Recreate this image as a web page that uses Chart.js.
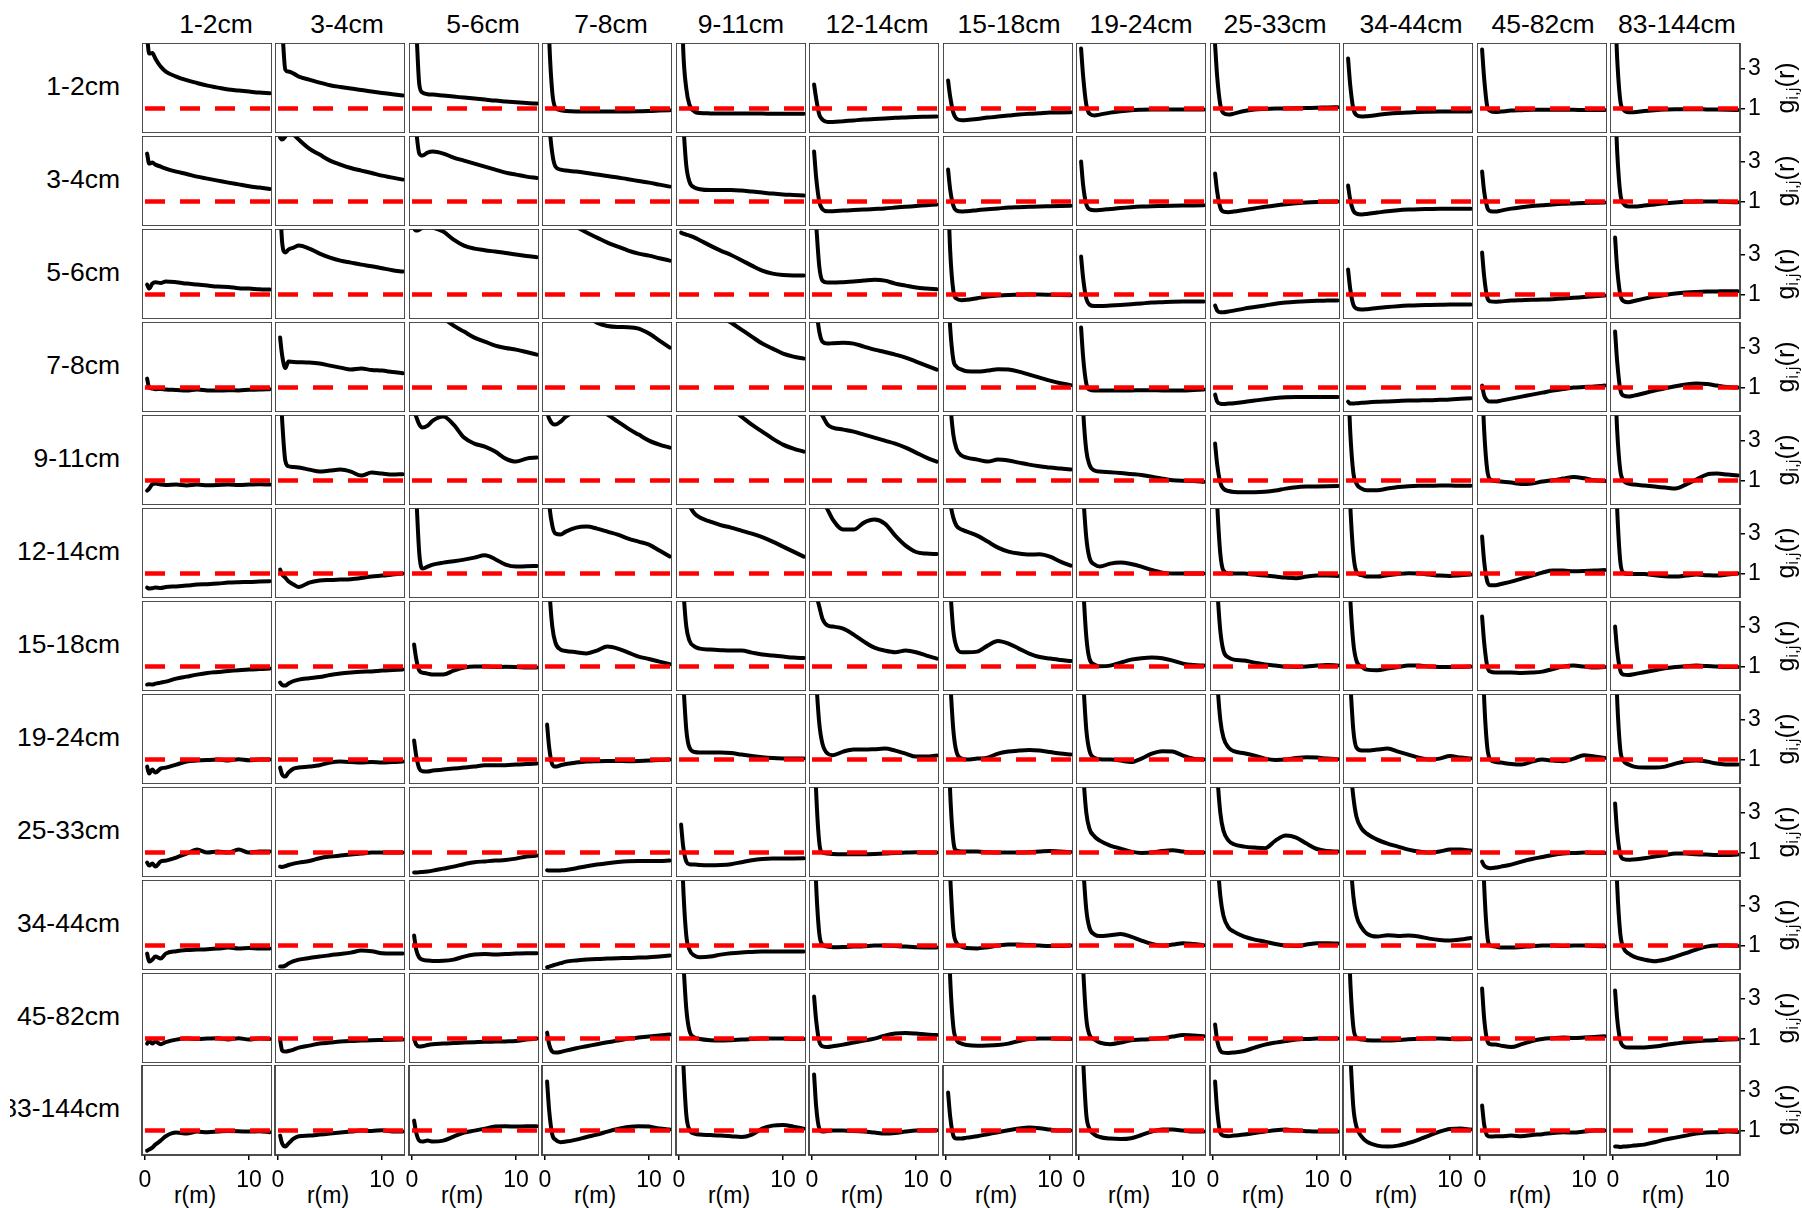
<!DOCTYPE html>
<html>
<head>
<meta charset="utf-8">
<script src="https://cdn.jsdelivr.net/npm/chart.js@4.4.1/dist/chart.umd.min.js"></script>
<style>
  body { margin: 0; background: #fff; width: 1802px; height: 1208px; overflow: hidden; position: relative;
         font-family: "Liberation Sans", Arial, sans-serif; color: #000; }
  .lab { position: absolute; white-space: nowrap; }
  #rowLabels { position: absolute; left: 10px; top: 0; width: 110px; height: 1208px; overflow: hidden; }
</style>
</head>
<body>
<div id="rowLabels"></div>
<script>
// size classes (same for rows i and columns j)
const sizeClasses = ['1-2cm', '3-4cm', '5-6cm', '7-8cm', '9-11cm', '12-14cm', '15-18cm',
                     '19-24cm', '25-33cm', '34-44cm', '45-82cm', '83-144cm'];

// distances r (m) where each g(r) curve is read
const rSteps = [0.2, 0.4, 0.7, 1, 1.5, 2, 3, 4, 5, 6, 7, 8, 9, 10, 11, 12];

const xTicks = [0, 10];
const yTicks = [1, 3];
const refLevel = 1;          // red dashed line, g = 1
const refSpan = [0, 12.2];

// one list per row (row class = sizeClasses[i]); 12 curves each, one per column class
const gRow1 = [
  [4.6, 3.75, 3.78, 3.5, 3.1, 2.85, 2.6, 2.42, 2.28, 2.15, 2.05, 1.95, 1.9, 1.85, 1.8, 1.77],
  [6, 5, 2.95, 2.85, 2.75, 2.6, 2.45, 2.3, 2.17, 2.08, 2.0, 1.93, 1.85, 1.78, 1.72, 1.66],
  [6, 5, 2.2, 1.8, 1.72, 1.7, 1.65, 1.6, 1.55, 1.5, 1.45, 1.4, 1.36, 1.32, 1.28, 1.25],
  [8, 4.5, 1.8, 1.05, 0.92, 0.88, 0.86, 0.86, 0.85, 0.85, 0.85, 0.86, 0.87, 0.88, 0.9, 0.92],
  [8, 4, 2.0, 1.2, 0.85, 0.78, 0.76, 0.75, 0.75, 0.75, 0.75, 0.75, 0.74, 0.74, 0.74, 0.74],
  [2.2, 1.5, 0.7, 0.45, 0.33, 0.33, 0.37, 0.41, 0.45, 0.48, 0.51, 0.54, 0.56, 0.58, 0.59, 0.6],
  [2.4, 1.6, 0.8, 0.5, 0.42, 0.43, 0.48, 0.55, 0.6, 0.65, 0.7, 0.74, 0.77, 0.8, 0.81, 0.82],
  [4.0, 2.6, 1.2, 0.75, 0.66, 0.7, 0.8, 0.87, 0.92, 0.94, 0.95, 0.95, 0.95, 0.96, 0.96, 0.96],
  [4.2, 2.6, 1.2, 0.78, 0.7, 0.75, 0.88, 0.95, 0.98, 1.0, 1.01, 1.02, 1.03, 1.04, 1.06, 1.07],
  [3.5, 2.2, 1.0, 0.68, 0.6, 0.62, 0.68, 0.74, 0.78, 0.8, 0.83, 0.84, 0.85, 0.86, 0.86, 0.86],
  [3.95, 2.5, 1.1, 0.88, 0.83, 0.85, 0.9, 0.92, 0.94, 0.94, 0.94, 0.94, 0.94, 0.93, 0.93, 0.93],
  [6, 3.5, 1.4, 0.95, 0.82, 0.82, 0.88, 0.92, 0.95, 0.97, 0.97, 0.97, 0.96, 0.95, 0.94, 0.93]
];
const gRow2 = [
  [3.4, 2.9, 2.95, 2.85, 2.75, 2.65, 2.5, 2.38, 2.25, 2.15, 2.05, 1.95, 1.86, 1.77, 1.7, 1.63],
  [4.2, 4.1, 4.25, 4.5, 4.35, 4.1, 3.65, 3.35, 3.05, 2.85, 2.68, 2.55, 2.43, 2.3, 2.2, 2.1],
  [6, 4.6, 3.4, 3.3, 3.45, 3.5, 3.4, 3.2, 3.05, 2.9, 2.75, 2.6, 2.45, 2.35, 2.25, 2.18],
  [7, 5, 3.4, 2.75, 2.6, 2.55, 2.5, 2.43, 2.35, 2.28, 2.2, 2.12, 2.03, 1.95, 1.85, 1.75],
  [7, 5, 2.8, 2.0, 1.7, 1.62, 1.58, 1.58, 1.58, 1.55, 1.5, 1.45, 1.4, 1.36, 1.33, 1.3],
  [3.5, 2.2, 1.0, 0.62, 0.52, 0.52, 0.55, 0.58, 0.6, 0.63, 0.66, 0.7, 0.74, 0.78, 0.82, 0.86],
  [2.6, 1.6, 0.8, 0.55, 0.5, 0.52, 0.57, 0.62, 0.66, 0.7, 0.72, 0.74, 0.76, 0.77, 0.78, 0.79],
  [3.0, 1.8, 0.85, 0.62, 0.57, 0.58, 0.63, 0.68, 0.72, 0.75, 0.77, 0.78, 0.79, 0.8, 0.81, 0.82],
  [2.4, 1.5, 0.7, 0.5, 0.47, 0.5, 0.58, 0.66, 0.74, 0.81, 0.87, 0.92, 0.96, 0.98, 0.99, 1.0],
  [1.8, 1.1, 0.55, 0.4, 0.36, 0.38, 0.45, 0.52, 0.57, 0.6, 0.62, 0.63, 0.64, 0.64, 0.64, 0.64],
  [2.5, 1.5, 0.7, 0.52, 0.5, 0.55, 0.65, 0.72, 0.78, 0.82, 0.86, 0.89, 0.91, 0.93, 0.94, 0.95],
  [6, 3.5, 1.4, 0.9, 0.75, 0.75, 0.8, 0.86, 0.92, 0.96, 0.99, 1.0, 1.01, 1.0, 0.98, 0.97]
];
const gRow3 = [
  [1.5, 1.3, 1.55, 1.62, 1.58, 1.66, 1.62, 1.55, 1.5, 1.45, 1.4, 1.38, 1.32, 1.3, 1.27, 1.25],
  [5.5, 3.6, 3.1, 3.25, 3.35, 3.45, 3.3, 3.05, 2.85, 2.7, 2.6, 2.5, 2.42, 2.32, 2.22, 2.15],
  [4.3, 4.2, 4.25, 4.35, 4.4, 4.35, 4.15, 3.75, 3.45, 3.3, 3.22, 3.15, 3.08, 3.0, 2.93, 2.87],
  [5.5, 5.3, 5.2, 5.1, 5.0, 4.8, 4.4, 4.1, 3.85, 3.6, 3.4, 3.2, 3.05, 2.95, 2.82, 2.7],
  [4.1, 4.05, 4.0, 3.95, 3.85, 3.72, 3.45, 3.2, 2.98, 2.72, 2.45, 2.2, 2.05, 1.98, 1.96, 1.96],
  [6, 4.5, 2.4, 1.7, 1.6, 1.6, 1.62, 1.65, 1.7, 1.74, 1.7, 1.55, 1.45, 1.35, 1.3, 1.27],
  [6, 3.2, 1.2, 0.8, 0.72, 0.74, 0.82, 0.9, 0.95, 0.98, 0.99, 1.0, 1.0, 0.99, 0.98, 0.97],
  [2.9, 1.8, 0.8, 0.5, 0.43, 0.43, 0.45, 0.48, 0.52, 0.56, 0.6, 0.62, 0.64, 0.65, 0.65, 0.65],
  [0.45, 0.2, 0.12, 0.12, 0.16, 0.2, 0.3, 0.38, 0.46, 0.54, 0.6, 0.64, 0.67, 0.69, 0.7, 0.71],
  [2.25, 1.3, 0.5, 0.3, 0.25, 0.27, 0.33, 0.38, 0.42, 0.45, 0.47, 0.48, 0.49, 0.5, 0.5, 0.5],
  [3.1, 1.9, 0.85, 0.66, 0.64, 0.66, 0.7, 0.72, 0.74, 0.75, 0.77, 0.8, 0.84, 0.88, 0.92, 0.95],
  [3.85, 2.3, 1.0, 0.68, 0.62, 0.68, 0.8, 0.9, 0.98, 1.05, 1.1, 1.13, 1.15, 1.16, 1.17, 1.17]
];
const gRow4 = [
  [1.45, 1.0, 0.95, 0.92, 0.93, 0.9, 0.88, 0.85, 0.9, 0.86, 0.85, 0.87, 0.86, 0.89, 0.9, 0.92],
  [3.5, 2.6, 1.98, 2.3, 2.28, 2.27, 2.25, 2.2, 2.1, 2.0, 1.9, 1.95, 1.88, 1.85, 1.78, 1.72],
  [6, 6, 5.9, 5.7, 5.4, 5.1, 4.5, 4.1, 3.8, 3.5, 3.3, 3.1, 2.98, 2.9, 2.78, 2.65],
  [6.5, 6.3, 6.2, 6.1, 5.9, 5.7, 5.0, 4.6, 4.25, 4.08, 4.03, 4.02, 3.95, 3.7, 3.35, 3.0],
  [7, 6.8, 6.6, 6.4, 6.1, 5.8, 5.2, 4.6, 4.25, 3.9, 3.55, 3.2, 2.95, 2.7, 2.55, 2.45],
  [6, 5, 3.8, 3.3, 3.2, 3.22, 3.24, 3.2, 3.05, 2.9, 2.78, 2.65, 2.5, 2.3, 2.1, 1.9],
  [6, 4, 2.4, 2.05, 1.9, 1.82, 1.8, 1.85, 1.92, 1.9, 1.8, 1.65, 1.5, 1.35, 1.22, 1.12],
  [4.0, 2.5, 1.2, 0.9, 0.85, 0.85, 0.86, 0.86, 0.86, 0.87, 0.87, 0.86, 0.86, 0.86, 0.88, 0.9],
  [0.65, 0.3, 0.2, 0.18, 0.2, 0.22, 0.28, 0.35, 0.42, 0.48, 0.52, 0.53, 0.53, 0.53, 0.53, 0.53],
  [0.3, 0.2, 0.2, 0.22, 0.24, 0.26, 0.29, 0.31, 0.33, 0.35, 0.36, 0.37, 0.39, 0.41, 0.44, 0.47],
  [1.1, 0.6, 0.35, 0.3, 0.3, 0.35, 0.45, 0.55, 0.65, 0.75, 0.85, 0.93, 1.0, 1.03, 1.06, 1.1],
  [3.8, 2.3, 0.9, 0.6, 0.55, 0.6, 0.72, 0.85, 0.97, 1.07, 1.15, 1.2, 1.18, 1.1, 1.03, 1.0]
];
const gRow5 = [
  [0.5, 0.6, 0.82, 0.85, 0.8, 0.78, 0.8, 0.76, 0.8, 0.77, 0.78, 0.8, 0.78, 0.8, 0.82, 0.8],
  [6, 4, 2.0, 1.72, 1.68, 1.65, 1.55, 1.45, 1.5, 1.55, 1.45, 1.25, 1.4, 1.35, 1.3, 1.32],
  [4.5, 4.2, 3.8, 3.65, 3.75, 4.0, 4.2, 3.8, 3.15, 2.85, 2.7, 2.45, 2.1, 1.95, 2.1, 2.15],
  [4.4, 4.1, 3.85, 3.8, 3.95, 4.2, 4.5, 4.7, 4.6, 4.3, 3.95, 3.6, 3.3, 3.0, 2.8, 2.65],
  [7, 7, 6.8, 6.6, 6.3, 6.0, 5.5, 5.0, 4.6, 4.2, 3.8, 3.45, 3.1, 2.8, 2.6, 2.45],
  [5.5, 5, 4.5, 4.25, 3.8, 3.65, 3.55, 3.45, 3.3, 3.15, 3.0, 2.85, 2.65, 2.4, 2.15, 1.95],
  [7, 5, 3.3, 2.6, 2.25, 2.15, 2.05, 1.95, 2.05, 2.0, 1.9, 1.8, 1.72, 1.65, 1.6, 1.55],
  [7, 4.5, 2.5, 1.8, 1.5, 1.45, 1.42, 1.38, 1.33, 1.28, 1.2, 1.1, 1.02, 0.99, 0.98, 0.94],
  [2.85, 1.8, 0.9, 0.6, 0.48, 0.43, 0.42, 0.42, 0.44, 0.5, 0.6, 0.67, 0.7, 0.71, 0.72, 0.73],
  [6, 3.5, 1.4, 0.85, 0.6, 0.52, 0.52, 0.6, 0.68, 0.72, 0.74, 0.74, 0.75, 0.75, 0.74, 0.74],
  [6, 3.5, 1.5, 1.05, 0.98, 0.95, 0.9, 0.83, 0.86, 0.95, 1.02, 1.1, 1.18, 1.12, 1.02, 0.98],
  [6, 3.5, 1.5, 1.0, 0.85, 0.8, 0.75, 0.7, 0.65, 0.6, 0.8, 1.05, 1.3, 1.35, 1.3, 1.25]
];
const gRow6 = [
  [0.3, 0.25, 0.27, 0.3, 0.28, 0.33, 0.36, 0.4, 0.45, 0.47, 0.5, 0.55, 0.57, 0.58, 0.6, 0.62],
  [1.2, 0.95, 0.8, 0.62, 0.45, 0.33, 0.55, 0.65, 0.68, 0.7, 0.72, 0.78, 0.86, 0.9, 0.95, 1.0],
  [7, 5, 2.0, 1.25, 1.35, 1.45, 1.55, 1.62, 1.7, 1.8, 1.92, 1.72, 1.45, 1.35, 1.37, 1.38],
  [6, 4.5, 3.4, 3.0, 2.95, 3.1, 3.3, 3.35, 3.25, 3.1, 2.95, 2.75, 2.6, 2.45, 2.15, 1.85],
  [5.5, 5.2, 4.8, 4.4, 4.0, 3.8, 3.6, 3.42, 3.3, 3.15, 3.0, 2.82, 2.6, 2.35, 2.1, 1.85],
  [6, 5.7, 5.2, 4.7, 4.2, 3.7, 3.2, 3.2, 3.55, 3.7, 3.5, 2.9, 2.4, 2.08, 2.0, 1.98],
  [5, 4.5, 3.8, 3.4, 3.2, 3.1, 2.9, 2.6, 2.3, 2.1, 2.0, 1.95, 1.97, 1.85, 1.6, 1.4],
  [7, 5, 2.8, 1.8, 1.45, 1.35, 1.5, 1.55, 1.48, 1.35, 1.18, 1.05, 1.0, 1.0, 1.0, 1.0],
  [7, 4.5, 2.0, 1.15, 1.0, 1.0, 1.0, 0.95, 0.9, 0.85, 0.8, 0.77, 0.85, 0.9, 0.9, 0.88],
  [7, 4.5, 2.0, 1.1, 0.92, 0.85, 0.85, 0.92, 0.98, 1.02, 1.0, 0.95, 0.9, 0.88, 0.92, 0.95],
  [2.85, 1.6, 0.6, 0.42, 0.42, 0.48, 0.6, 0.75, 0.9, 1.05, 1.15, 1.15, 1.12, 1.13, 1.15, 1.18],
  [7, 4.2, 1.6, 1.05, 0.98, 0.98, 0.98, 0.92, 0.87, 0.86, 0.9, 0.95, 0.92, 0.9, 0.95, 1.0]
];
const gRow7 = [
  [0.1, 0.12, 0.1, 0.15, 0.2, 0.25, 0.4, 0.5, 0.6, 0.68, 0.73, 0.78, 0.82, 0.85, 0.88, 0.9],
  [0.2, 0.08, 0.05, 0.15, 0.28, 0.35, 0.42, 0.48, 0.58, 0.65, 0.7, 0.74, 0.76, 0.8, 0.83, 0.86],
  [2.1, 1.4, 0.8, 0.7, 0.65, 0.6, 0.6, 0.8, 0.95, 1.0, 1.0, 0.98, 0.99, 0.98, 0.96, 0.96],
  [7, 5, 3.0, 2.2, 1.85, 1.78, 1.72, 1.66, 1.8, 2.0, 1.9, 1.7, 1.5, 1.38, 1.25, 1.12],
  [7, 5, 3.0, 2.3, 2.0, 1.9, 1.85, 1.82, 1.8, 1.8, 1.7, 1.6, 1.55, 1.5, 1.45, 1.43],
  [5, 4.6, 4.0, 3.4, 3.05, 3.0, 2.9, 2.6, 2.25, 1.95, 1.8, 1.72, 1.8, 1.72, 1.55, 1.4],
  [7, 5, 2.8, 2.0, 1.72, 1.72, 1.75, 2.05, 2.28, 2.15, 1.9, 1.65, 1.48, 1.4, 1.33, 1.28],
  [7, 5, 2.5, 1.4, 1.1, 1.02, 1.05, 1.2, 1.35, 1.42, 1.45, 1.42, 1.3, 1.15, 1.08, 1.05],
  [7, 5, 2.8, 1.8, 1.45, 1.35, 1.3, 1.2, 1.1, 1.05, 1.0, 0.98, 1.0, 1.05, 1.08, 1.05],
  [7, 4.5, 2.2, 1.3, 1.0, 0.85, 0.82, 0.9, 0.98, 1.05, 1.05, 1.0, 0.98, 0.98, 0.98, 1.0],
  [3.5, 2.2, 1.0, 0.75, 0.7, 0.7, 0.7, 0.68, 0.7, 0.75, 0.88, 1.0, 1.05, 1.0, 0.95, 0.98],
  [3.0, 1.8, 0.8, 0.6, 0.58, 0.62, 0.72, 0.82, 0.92, 0.98, 1.02, 1.05, 1.03, 1.0, 0.98, 0.98]
];
const gRow8 = [
  [0.65, 0.3, 0.5, 0.35, 0.55, 0.6, 0.75, 0.9, 0.95, 0.98, 1.0, 0.95, 1.02, 0.97, 1.0, 1.0],
  [0.6, 0.25, 0.15, 0.35, 0.55, 0.6, 0.65, 0.72, 0.85, 0.9, 0.88, 0.85, 0.88, 0.85, 0.88, 0.9],
  [1.95, 1.2, 0.55, 0.42, 0.4, 0.45, 0.5, 0.55, 0.6, 0.65, 0.72, 0.72, 0.72, 0.75, 0.78, 0.8],
  [2.75, 1.6, 0.75, 0.65, 0.72, 0.78, 0.85, 0.9, 0.92, 0.93, 0.93, 0.92, 0.93, 0.95, 0.98, 1.0],
  [7, 5, 2.5, 1.6, 1.38, 1.35, 1.35, 1.35, 1.33, 1.25, 1.18, 1.12, 1.08, 1.06, 1.05, 1.05],
  [7, 5, 2.8, 1.8, 1.3, 1.22, 1.4, 1.5, 1.5, 1.52, 1.55, 1.45, 1.3, 1.15, 1.15, 1.2],
  [7, 5, 2.5, 1.4, 1.05, 1.0, 1.05, 1.1, 1.3, 1.4, 1.45, 1.48, 1.45, 1.38, 1.3, 1.25],
  [7, 5, 2.5, 1.45, 1.08, 1.02, 1.0, 0.95, 0.88, 1.05, 1.3, 1.42, 1.4, 1.2, 1.05, 1.0],
  [7, 5, 3.0, 2.1, 1.6, 1.42, 1.32, 1.2, 1.05, 0.98, 1.0, 1.08, 1.12, 1.1, 1.05, 1.02],
  [7, 5, 2.5, 1.6, 1.45, 1.45, 1.5, 1.55, 1.4, 1.25, 1.1, 1.0, 1.05, 1.18, 1.1, 1.05],
  [7, 4, 1.6, 1.0, 0.88, 0.85, 0.78, 0.75, 0.9, 1.0, 0.95, 0.92, 1.05, 1.22, 1.15, 1.08],
  [7, 4, 1.5, 0.95, 0.75, 0.65, 0.6, 0.6, 0.65, 0.8, 0.92, 0.95, 0.9, 0.8, 0.75, 0.75]
];
const gRow9 = [
  [0.5, 0.35, 0.45, 0.3, 0.55, 0.6, 0.75, 0.95, 1.15, 1.0, 1.05, 1.0, 1.15, 1.0, 1.05, 1.05],
  [0.3, 0.28, 0.32, 0.38, 0.45, 0.5, 0.58, 0.72, 0.8, 0.85, 0.9, 0.95, 1.0, 1.0, 1.0, 1.0],
  [0.0, 0.0, 0.02, 0.03, 0.06, 0.1, 0.2, 0.3, 0.42, 0.52, 0.56, 0.6, 0.63, 0.7, 0.8, 0.85],
  [0.12, 0.1, 0.1, 0.1, 0.11, 0.13, 0.22, 0.32, 0.4, 0.47, 0.53, 0.57, 0.58, 0.58, 0.58, 0.6],
  [2.4, 1.3, 0.55, 0.42, 0.4, 0.38, 0.37, 0.38, 0.42, 0.52, 0.62, 0.68, 0.7, 0.7, 0.71, 0.72],
  [7, 4, 1.5, 1.0, 0.95, 0.93, 0.92, 0.92, 0.92, 0.93, 0.95, 0.98, 1.0, 1.02, 1.0, 1.0],
  [7, 4, 1.6, 1.1, 1.05, 1.05, 1.05, 1.02, 1.0, 1.0, 1.0, 1.02, 1.05, 1.08, 1.05, 1.03],
  [7, 5, 3.0, 2.2, 1.8, 1.6, 1.35, 1.2, 1.05, 0.98, 1.0, 1.08, 1.12, 1.05, 1.0, 1.0],
  [7, 5, 3.0, 2.1, 1.6, 1.42, 1.3, 1.25, 1.22, 1.6, 1.85, 1.75, 1.45, 1.18, 1.08, 1.05],
  [7, 5.5, 3.8, 2.8, 2.2, 1.95, 1.65, 1.45, 1.3, 1.15, 1.05, 1.0, 1.05, 1.15, 1.15, 1.1],
  [0.55, 0.35, 0.25, 0.22, 0.25, 0.3, 0.4, 0.55, 0.68, 0.78, 0.88, 0.95, 0.98, 1.0, 0.98, 0.98],
  [3.45, 2.0, 0.9, 0.68, 0.64, 0.66, 0.72, 0.8, 0.88, 0.95, 0.95, 0.92, 0.9, 0.88, 0.88, 0.9]
];
const gRow10 = [
  [0.6, 0.2, 0.3, 0.45, 0.35, 0.6, 0.72, 0.78, 0.8, 0.82, 0.85, 0.9, 0.85, 0.88, 0.86, 0.86],
  [-0.05, -0.05, 0.0, 0.1, 0.22, 0.3, 0.38, 0.45, 0.52, 0.58, 0.65, 0.75, 0.72, 0.62, 0.6, 0.6],
  [1.5, 0.8, 0.4, 0.3, 0.25, 0.23, 0.24, 0.3, 0.45, 0.55, 0.58, 0.55, 0.58, 0.6, 0.62, 0.62],
  [-0.08, -0.05, 0.0, 0.05, 0.12, 0.2, 0.26, 0.3, 0.33, 0.35, 0.37, 0.38, 0.4, 0.42, 0.46, 0.5],
  [7, 4, 1.5, 0.8, 0.5, 0.42, 0.45, 0.55, 0.62, 0.66, 0.68, 0.7, 0.7, 0.7, 0.7, 0.7],
  [7, 4, 1.6, 1.05, 0.95, 0.92, 0.93, 0.95, 0.97, 1.0, 1.0, 0.98, 0.95, 0.92, 0.9, 0.9],
  [7, 4.5, 1.8, 1.15, 0.95, 0.88, 0.86, 0.92, 1.0, 1.05, 1.05, 1.03, 1.0, 0.98, 0.98, 1.0],
  [7, 5, 2.8, 1.9, 1.55, 1.48, 1.52, 1.58, 1.45, 1.25, 1.08, 1.0, 1.05, 1.12, 1.08, 1.02],
  [7, 5.5, 3.5, 2.5, 1.9, 1.7, 1.45, 1.3, 1.2, 1.08, 1.0, 0.98, 1.05, 1.12, 1.12, 1.1],
  [7, 5.5, 3.5, 2.5, 1.9, 1.6, 1.45, 1.52, 1.48, 1.5, 1.45, 1.35, 1.28, 1.25, 1.3, 1.38],
  [7, 4, 1.5, 1.0, 0.95, 0.9, 0.9, 0.93, 0.97, 1.0, 1.0, 0.98, 1.0, 1.0, 0.98, 0.97],
  [7, 4, 1.6, 0.9, 0.6, 0.45, 0.3, 0.22, 0.3, 0.45, 0.62, 0.8, 0.95, 1.0, 1.0, 0.98]
];
const gRow11 = [
  [0.75, 0.9, 0.75, 0.85, 0.72, 0.82, 0.95, 1.0, 0.98, 1.0, 1.02, 0.95, 1.02, 0.95, 1.0, 0.98],
  [0.95, 0.4, 0.35, 0.38, 0.45, 0.55, 0.65, 0.75, 0.8, 0.85, 0.88, 0.9, 0.92, 0.93, 0.94, 0.95],
  [1.0, 0.7, 0.6, 0.62, 0.68, 0.72, 0.75, 0.78, 0.8, 0.82, 0.84, 0.85, 0.86, 0.88, 0.95, 1.0],
  [1.3, 0.7, 0.35, 0.3, 0.33, 0.4, 0.52, 0.62, 0.72, 0.82, 0.9, 1.0, 1.05, 1.1, 1.15, 1.2],
  [7, 5, 2.5, 1.4, 1.05, 0.98, 0.92, 0.9, 0.92, 0.95, 0.98, 1.0, 1.0, 1.0, 0.98, 0.98],
  [3.1, 1.9, 0.85, 0.62, 0.58, 0.62, 0.7, 0.8, 0.9, 1.0, 1.15, 1.25, 1.28, 1.25, 1.2, 1.18],
  [7, 4, 1.6, 0.95, 0.75, 0.68, 0.64, 0.65, 0.68, 0.75, 0.88, 0.98, 1.0, 1.0, 0.99, 0.98],
  [7, 4.5, 2.0, 1.2, 0.95, 0.8, 0.72, 0.8, 0.92, 0.95, 0.98, 1.02, 1.1, 1.18, 1.15, 1.12],
  [1.7, 0.9, 0.4, 0.3, 0.28, 0.3, 0.38, 0.55, 0.7, 0.8, 0.88, 0.95, 0.98, 1.0, 1.0, 1.0],
  [7, 4, 1.6, 1.05, 0.95, 0.92, 0.9, 0.9, 0.93, 0.97, 0.98, 1.0, 1.0, 0.98, 0.97, 0.98],
  [3.5, 2.0, 0.9, 0.72, 0.7, 0.65, 0.58, 0.72, 0.88, 0.98, 1.02, 1.05, 1.03, 1.05, 1.08, 1.12],
  [3.4, 2.0, 0.9, 0.62, 0.55, 0.55, 0.56, 0.6, 0.68, 0.75, 0.82, 0.87, 0.9, 0.93, 0.95, 0.97]
];
const gRow12 = [
  [0.0, 0.05, 0.15, 0.3, 0.5, 0.72, 0.9, 0.85, 0.95, 0.92, 0.95, 0.98, 0.97, 0.95, 0.97, 0.92],
  [0.75, 0.35, 0.2, 0.35, 0.6, 0.72, 0.75, 0.8, 0.85, 0.9, 0.95, 1.0, 0.98, 1.02, 0.95, 0.95],
  [1.5, 0.9, 0.5, 0.45, 0.5, 0.45, 0.5, 0.7, 0.9, 1.0, 1.1, 1.2, 1.22, 1.2, 1.22, 1.22],
  [3.45, 2.0, 0.8, 0.55, 0.42, 0.45, 0.55, 0.68, 0.8, 0.95, 1.08, 1.18, 1.22, 1.2, 1.1, 1.05],
  [7, 4.5, 1.8, 1.05, 0.85, 0.8, 0.78, 0.75, 0.72, 0.68, 0.8, 1.1, 1.25, 1.28, 1.2, 1.1],
  [3.8, 2.2, 1.1, 0.95, 0.98, 1.0, 1.0, 0.98, 0.95, 0.9, 0.85, 0.88, 0.95, 1.0, 1.0, 1.02],
  [2.9, 1.7, 0.75, 0.6, 0.6, 0.65, 0.72, 0.82, 0.92, 1.02, 1.1, 1.15, 1.12, 1.05, 1.0, 1.0],
  [7, 4.5, 1.8, 1.1, 0.8, 0.68, 0.6, 0.58, 0.62, 0.78, 0.95, 1.05, 1.05, 1.0, 0.95, 0.95],
  [3.45, 2.0, 0.9, 0.75, 0.72, 0.75, 0.8, 0.88, 0.95, 1.02, 1.05, 1.0, 0.97, 0.95, 0.95, 0.95],
  [7, 5, 2.2, 1.2, 0.7, 0.45, 0.25, 0.2, 0.25, 0.38, 0.55, 0.75, 0.95, 1.08, 1.1, 1.05],
  [2.25, 1.3, 0.75, 0.7, 0.72, 0.72, 0.75, 0.72, 0.78, 0.82, 0.88, 0.92, 0.9, 0.95, 1.0, 1.0],
  [0.2, 0.2, 0.18, 0.2, 0.22, 0.25, 0.3, 0.42, 0.55, 0.65, 0.75, 0.85, 0.9, 0.92, 0.95, 0.93]
];
const gRows = [gRow1, gRow2, gRow3, gRow4, gRow5, gRow6, gRow7, gRow8, gRow9, gRow10, gRow11, gRow12];

// layout of the panel grid
const PANEL_W = 130, PANEL_H = 90;
const GRID_LEFT = 142, GRID_TOP = 43, STEP_X = 133.45, STEP_Y = 92.95;
const AXIS_W = 62, AXIS_H = 52, PAD_L = 12;   // PAD_L: room for the "0" tick label on the bottom row
const FONT = '"Liberation Sans", Arial, sans-serif';
// the column titles in the original sit slightly right of the panel centre
const headerNudge = [9, 7, 9, 4, 0, 3, 1, 0, 0, 3, 1, 2];

// box round every panel
const boxPlugin = {
  id: 'box',
  afterDraw(chart) {
    const { ctx, chartArea: a } = chart;
    ctx.save();
    ctx.strokeStyle = '#3a3a3a';
    ctx.lineWidth = 1.8;
    ctx.strokeRect(a.left, a.top, a.right - a.left, a.bottom - a.top);
    ctx.restore();
  }
};

// right-hand axis title g_{i,j}(r), reads bottom to top
const gTitlePlugin = {
  id: 'gTitle',
  afterDraw(chart) {
    const { ctx, chartArea: a } = chart;
    const big = '25px ' + FONT, small = '17px ' + FONT;
    ctx.save();
    ctx.font = big;
    const wg = ctx.measureText('g').width, wr = ctx.measureText('(r)').width;
    ctx.font = small;
    const ws = ctx.measureText('i,j').width;
    ctx.translate(a.right + 47, (a.top + a.bottom) / 2);
    ctx.rotate(-Math.PI / 2);
    ctx.fillStyle = '#000';
    ctx.textBaseline = 'alphabetic';
    let x = -(wg + ws + wr) / 2;
    ctx.font = big;  ctx.fillText('g', x, 7);   x += wg;
    ctx.font = small; ctx.fillText('i,j', x, 11); x += ws;
    ctx.font = big;  ctx.fillText('(r)', x, 7);
    ctx.restore();
  }
};

function makePanel(i, j) {
  const lastCol = j === 11, lastRow = i === 11;
  const padL = lastRow ? PAD_L : 0;
  const left = Math.round(GRID_LEFT + j * STEP_X) - padL;
  const top = Math.round(GRID_TOP + i * STEP_Y);
  const canvas = document.createElement('canvas');
  canvas.width = padL + PANEL_W + (lastCol ? AXIS_W : 0);
  canvas.height = PANEL_H + (lastRow ? AXIS_H : 0);
  canvas.style.position = 'absolute';
  canvas.style.left = left + 'px';
  canvas.style.top = top + 'px';
  document.body.appendChild(canvas);

  const vals = gRows[i][j];
  const tickStyle = { color: '#000', font: { family: FONT, size: 23 }, maxRotation: 0, autoSkip: false,
                      callback: v => String(v) };
  const gridStyle = { display: true, drawOnChartArea: false, drawTicks: true, tickLength: 5,
                      color: '#000', lineWidth: 1.5 };
  const noPad = s => { s.paddingLeft = 0; s.paddingRight = 0; s.paddingTop = 0; s.paddingBottom = 0; };

  new Chart(canvas, {
    type: 'line',
    data: {
      datasets: [
        {
          data: refSpan.map(x => ({ x, y: refLevel })),
          borderColor: '#ff0000', borderWidth: 4.5, borderDash: [20, 15], borderCapStyle: 'butt',
          pointRadius: 0, clip: 0
        },
        {
          data: rSteps.map((r, k) => ({ x: r, y: vals[k] })),
          borderColor: '#000', borderWidth: 4, cubicInterpolationMode: 'monotone',
          borderCapStyle: 'round', borderJoinStyle: 'round', pointRadius: 0, clip: 0
        }
      ]
    },
    options: {
      responsive: false, animation: false, events: [],
      layout: { padding: { left: padL, right: 0, top: 0, bottom: 0 } },
      plugins: { legend: { display: false }, tooltip: { enabled: false } },
      scales: {
        x: {
          type: 'linear', min: -0.29, max: 12.21, display: lastRow,
          border: { display: false }, grid: gridStyle,
          ticks: { ...tickStyle, padding: 7 },
          afterBuildTicks: s => { s.ticks = xTicks.map(v => ({ value: v })); },
          afterFit: s => { if (lastRow) { s.height = AXIS_H; noPad(s); } }
        },
        y: {
          type: 'linear', position: 'right', min: -0.22, max: 4.28, display: lastCol,
          border: { display: false }, grid: gridStyle,
          ticks: { ...tickStyle, padding: 3 },
          afterBuildTicks: s => { s.ticks = yTicks.map(v => ({ value: v })); },
          afterFit: s => { if (lastCol) { s.width = AXIS_W; noPad(s); } }
        }
      }
    },
    plugins: lastCol ? [boxPlugin, gTitlePlugin] : [boxPlugin]
  });
}

// column headers, row labels, r(m) labels
sizeClasses.forEach((name, j) => {
  const cx = Math.round(GRID_LEFT + j * STEP_X) + PANEL_W / 2 + headerNudge[j];
  const d = document.createElement('div');
  d.className = 'lab';
  d.textContent = name;
  d.style.cssText += `left:${cx - 70}px;width:140px;text-align:center;top:9px;font-size:26.5px;line-height:30px;`;
  document.body.appendChild(d);

  const rm = document.createElement('div');
  rm.className = 'lab';
  rm.textContent = 'r(m)';
  rm.style.cssText += `left:${Math.round(GRID_LEFT + j * STEP_X) + 53 - 40}px;width:80px;text-align:center;top:1180px;font-size:23px;line-height:30px;`;
  document.body.appendChild(rm);
});
const rowBox = document.getElementById('rowLabels');
sizeClasses.forEach((name, i) => {
  const cy = Math.round(GRID_TOP + i * STEP_Y) + PANEL_H / 2;
  const d = document.createElement('div');
  d.className = 'lab';
  d.textContent = name;
  d.style.cssText += `right:0;top:${cy - 17}px;font-size:26.5px;line-height:30px;`;
  rowBox.appendChild(d);
});

for (let i = 0; i < 12; i++) {
  for (let j = 0; j < 12; j++) makePanel(i, j);
}
</script>
</body>
</html>
